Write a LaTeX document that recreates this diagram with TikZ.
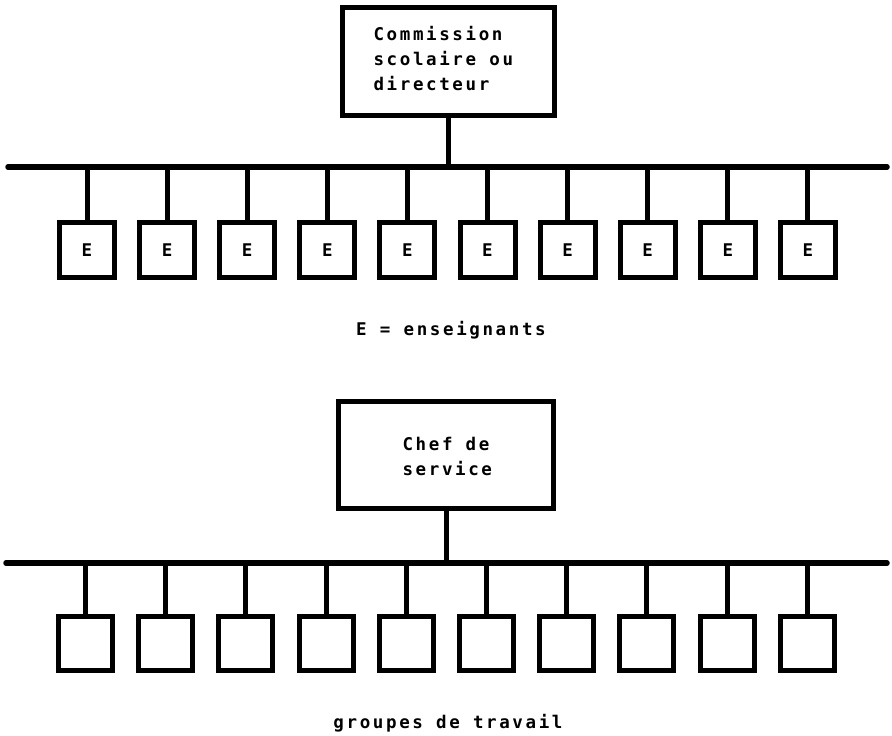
\documentclass[tikz,border=0pt]{standalone}
\usepackage{fontspec}
\newfontfamily\typewriter[LetterSpace=15]{DejaVu Sans Mono}
\begin{document}
\begin{tikzpicture}[x=1pt,y=-1pt,
  every node/.style={font=\typewriter\bfseries\fontsize{17.5}{25}\selectfont},
  chief/.style={draw, line width=5pt, rectangle, inner sep=0pt, align=left},
  member/.style={draw, line width=5pt, rectangle, inner sep=0pt,
    minimum width=55pt, minimum height=55pt},
  bus/.style={line width=5.5pt, line cap=round},
  stem/.style={line width=5pt}]
\useasboundingbox (0,0) rectangle (892,736);

% --- first organisation: school board and teachers ---
\node[chief, minimum width=212pt, minimum height=108pt] (boardA) at (448,61) {};
\node[align=left, anchor=west] (boardAtext) at (370,59)
  {Commission\\scolaire ou\\directeur};
\coordinate (busAL) at (8,167);
\coordinate (busAR) at (887,167);
\draw[bus] (busAL) -- (busAR);
\draw[stem] (boardA.south) -- (boardA.south |- busAL);
\foreach \i in {0,...,9} {
  \node[member] (e\i) at ({87+80.1*\i},250) {E};
  \draw[stem] (e\i.north) -- (e\i.north |- busAL);
}
\node (legendA) at (451,330) {E = enseignants};

% --- second organisation: head of department and work groups ---
\node[chief, minimum width=215pt, minimum height=107pt] (boardB) at (446,454.5) {};
\node[align=left, anchor=west] (boardBtext) at (399,456) {Chef de\\service};
\coordinate (busBL) at (6,563);
\coordinate (busBR) at (887,563);
\draw[bus] (busBL) -- (busBR);
\draw[stem] (boardB.south) -- (boardB.south |- busBL);
\foreach \i in {0,...,9} {
  \node[member, minimum height=54pt, minimum width=54pt] (g\i) at ({85.5+80.2*\i},643) {};
  \draw[stem] (g\i.north) -- (g\i.north |- busBL);
}
\node (legendB) at (448,723) {groupes de travail};
\end{tikzpicture}
\end{document}
